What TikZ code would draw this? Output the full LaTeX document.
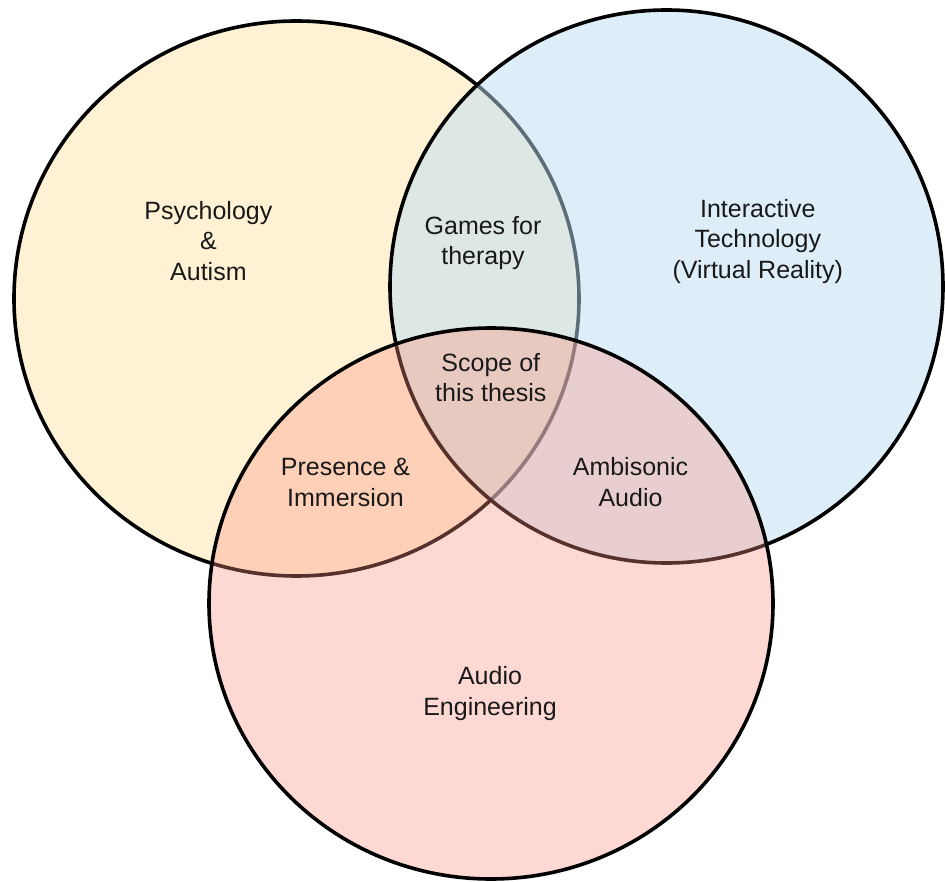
\documentclass[tikz,border=0pt]{standalone}
\usepackage{fontspec}
\setmainfont{Liberation Sans}
\definecolor{psyfill}{RGB}{255,242,212}
\definecolor{techfill}{RGB}{189,221,243}
\definecolor{audiofill}{RGB}{251,146,129}
\begin{document}
\begin{tikzpicture}[x=1pt,y=-1pt,
  setbox/.style={draw=black,line width=3.6pt},
  lbl/.style={anchor=base,align=center,inner sep=0pt,
    font=\fontsize{25}{30.6}\selectfont,text=black!90}]
\useasboundingbox (0,0) rectangle (945,882);
% the three sets, drawn bottom to top
\path[setbox,fill=psyfill] (296.5,298.5) ellipse [x radius=282.5,y radius=277.5];
\path[setbox,fill=techfill,fill opacity=0.5] (666.5,286.5) ellipse [x radius=276.5,y radius=276.5];
\path[setbox,fill=audiofill,fill opacity=0.35] (491,603.5) ellipse [x radius=282,y radius=275.5];
% labels (base anchor sits on the last line)
\node[lbl] (psy) at (208.4,280.6) {Psychology\\\&\\Autism};
\node[lbl] (tech) at (757.8,278.3) {Interactive\\Technology\\(Virtual Reality)};
\node[lbl] (games) at (483,265) {Games for\\therapy};
\node[lbl] (scope) at (490.8,402) {Scope of\\this thesis};
\node[lbl] (pres) at (345.5,506) {Presence \&\\Immersion};
\node[lbl] (ambi) at (630.5,506) {Ambisonic\\Audio};
\node[lbl] (audio) at (490,715) {Audio\\Engineering};
\end{tikzpicture}
\end{document}
